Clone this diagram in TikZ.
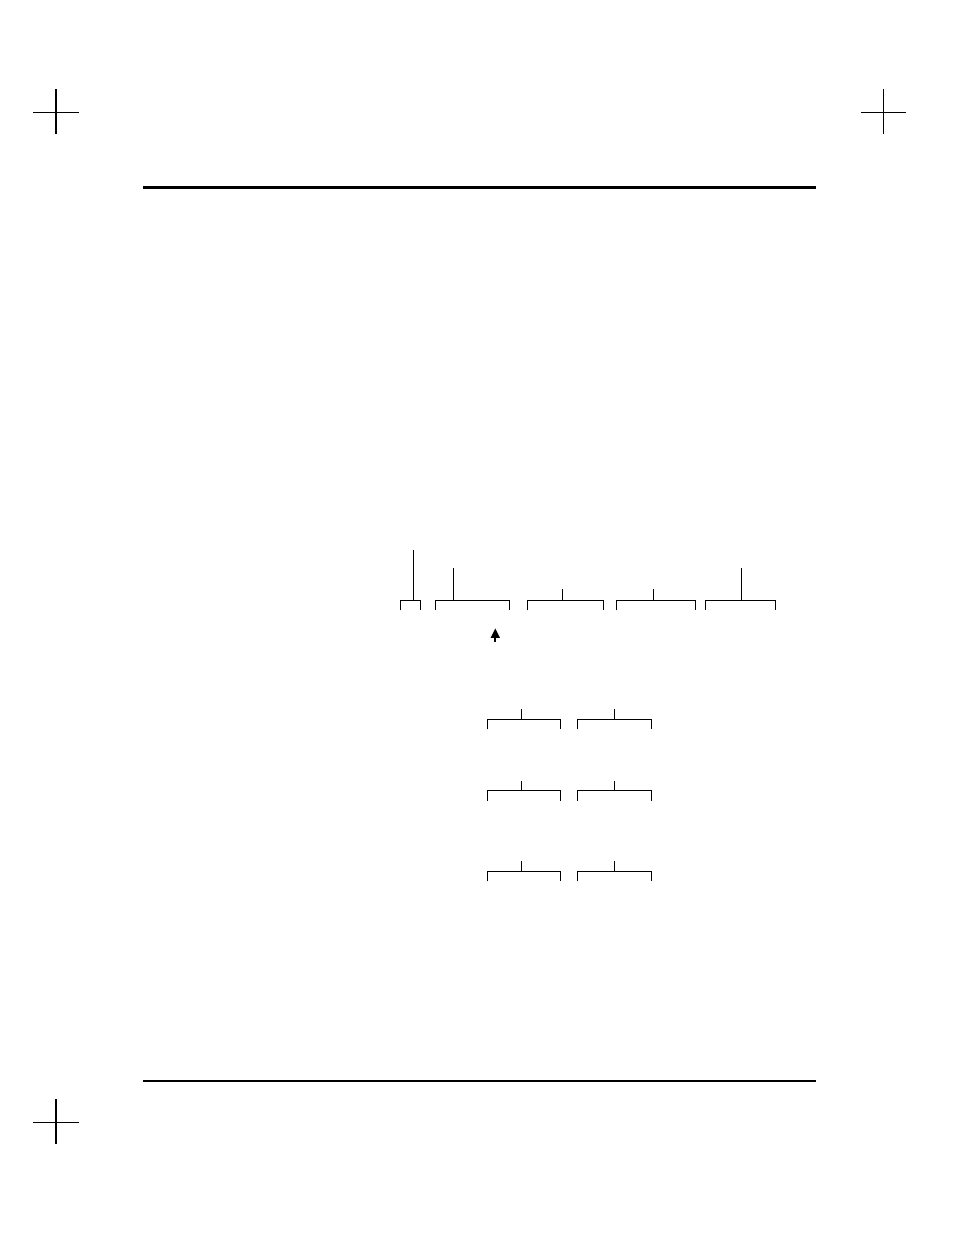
\documentclass[tikz,border=0pt]{standalone}
\usepackage{amsmath}
\usepackage{amssymb}
\usepackage{tikz}
\usetikzlibrary{arrows.meta}

\begin{document}
\begin{tikzpicture}[x=0.02cm,y=-0.02cm]
    \useasboundingbox (0,0) rectangle (954,1235);
    % crop marks
    \draw[line width=0.85pt] (33.3,112.3) -- (78.7,112.3) (56,89.3) -- (56,134.3);
    \draw[line width=0.85pt] (861,112.3) -- (906.3,112.3) (883.3,89.3) -- (883.3,134.3);
    \draw[line width=0.85pt] (33.3,1122.3) -- (78.7,1122.3) (56,1099.3) -- (56,1144.3);
    % page rules
    \draw[line width=1.7pt] (143,187.5) -- (816,187.5);
    \draw[line width=0.85pt] (143,1081) -- (816,1081);
    % top row of brackets: left, right, stem, stem top
    \foreach \l/\r/\s/\t in {400.7/420.7/413.3/550, 435.3/509.3/453.3/568,
        527.3/603.3/562.3/589, 616.3/695.3/653.3/589, 705.3/775.7/741.3/568} {
      \draw[line width=0.8pt] (\l,610.3) -- (\l,600.3) -- (\r,600.3) -- (\r,610.3);
      \draw[line width=0.8pt] (\s,600.3) -- (\s,\t);
    }
    \draw[line width=1.1pt, -{Triangle[length=5.5pt,width=5pt]}] (495.3,641.7) -- (495.3,628.3);
    % lower rows of brackets: top, stem top
    \foreach \y/\t in {719.3/709, 790.7/780.7, 871.3/861} {
      \draw[line width=0.8pt] (487.3,\y+10) -- (487.3,\y) -- (560.3,\y) -- (560.3,\y+10);
      \draw[line width=0.8pt] (521.3,\y) -- (521.3,\t);
      \draw[line width=0.8pt] (577.3,\y+10) -- (577.3,\y) -- (651.3,\y) -- (651.3,\y+10);
      \draw[line width=0.8pt] (614.3,\y) -- (614.3,\t);
    }
  \end{tikzpicture}
\end{document}
